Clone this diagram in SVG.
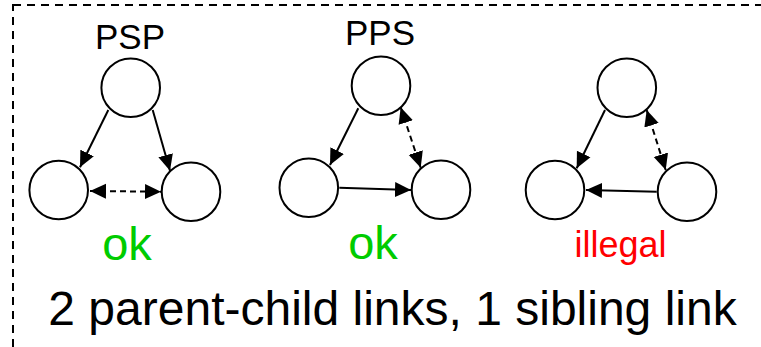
<svg xmlns="http://www.w3.org/2000/svg" width="761" height="347" viewBox="0 0 761 347">
  <style>
    .frame { fill: none; stroke: #000; stroke-width: 2; stroke-dasharray: 8 6; }
    .node { fill: #fff; stroke: #000; stroke-width: 2; }
    .link { fill: none; stroke: #000; stroke-width: 2; }
    .sib { stroke-dasharray: 6 4; }
    .lbl { font-family: "Liberation Sans", Arial, sans-serif; fill: #000; text-anchor: middle; }
    .ok { fill: #00cc00; }
    .bad { fill: #ff0000; }
  </style>
  <defs>
    <!-- filled triangular arrowhead, 16 long x 15 wide -->
    <marker id="head" markerUnits="strokeWidth" markerWidth="8" markerHeight="8" viewBox="0 0 16 16" refX="16" refY="8" orient="auto-start-reverse">
      <path d="M0,0.5 L16,8 L0,15.5 z" fill="#000"/>
    </marker>
  </defs>

  <rect class="frame" x="13" y="5" width="800" height="400"/>

  <!-- PSP -->
  <g id="psp">
    <text class="lbl" x="130" y="49" font-size="35">PSP</text>
    <circle id="psp-parent" class="node" cx="130.7" cy="87.7" r="29.3"/>
    <circle id="psp-left" class="node" cx="58.7" cy="190" r="29.3"/>
    <circle id="psp-right" class="node" cx="191" cy="191.7" r="29.3"/>
    <text class="lbl ok" x="127" y="260" font-size="47">ok</text>
  </g>

  <!-- PPS -->
  <g id="pps">
    <text class="lbl" x="380" y="45" font-size="35">PPS</text>
    <circle id="pps-parent" class="node" cx="381" cy="85.8" r="29.3"/>
    <circle id="pps-left" class="node" cx="308.8" cy="187.8" r="29.3"/>
    <circle id="pps-right" class="node" cx="441" cy="189.8" r="29.3"/>
    <text class="lbl ok" x="373" y="259" font-size="47">ok</text>
  </g>

  <!-- illegal case -->
  <g id="bad">
    <circle id="bad-parent" class="node" cx="626.8" cy="87.7" r="29.3"/>
    <circle id="bad-left" class="node" cx="555" cy="190" r="29.3"/>
    <circle id="bad-right" class="node" cx="687" cy="191.7" r="29.3"/>
    <text class="lbl bad" x="620.5" y="257" font-size="36">illegal</text>
  </g>

  <g id="connectors">
    <!-- PSP -->
    <line class="link" x1="108.3" y1="110" x2="80" y2="167.3" marker-end="url(#head)"/>
    <line class="link" x1="152.7" y1="110" x2="170" y2="170.7" marker-end="url(#head)"/>
    <line class="link sib" x1="90" y1="191" x2="161" y2="191.7" marker-start="url(#head)" marker-end="url(#head)"/>
    <!-- PPS -->
    <line class="link" x1="358.3" y1="108.3" x2="330" y2="165" marker-end="url(#head)"/>
    <line class="link" x1="339.3" y1="187.7" x2="411" y2="190" marker-end="url(#head)"/>
    <line class="link sib" x1="400.7" y1="107.3" x2="420.7" y2="167.7" marker-start="url(#head)" marker-end="url(#head)"/>
    <!-- illegal -->
    <line class="link" x1="605" y1="110" x2="576.7" y2="168.3" marker-end="url(#head)"/>
    <line class="link" x1="656.7" y1="191.7" x2="586" y2="190" marker-end="url(#head)"/>
    <line class="link sib" x1="646.7" y1="110" x2="665.7" y2="170" marker-start="url(#head)" marker-end="url(#head)"/>
  </g>

  <text class="lbl" x="392.5" y="325" font-size="48">2 parent-child links, 1 sibling link</text>
</svg>
